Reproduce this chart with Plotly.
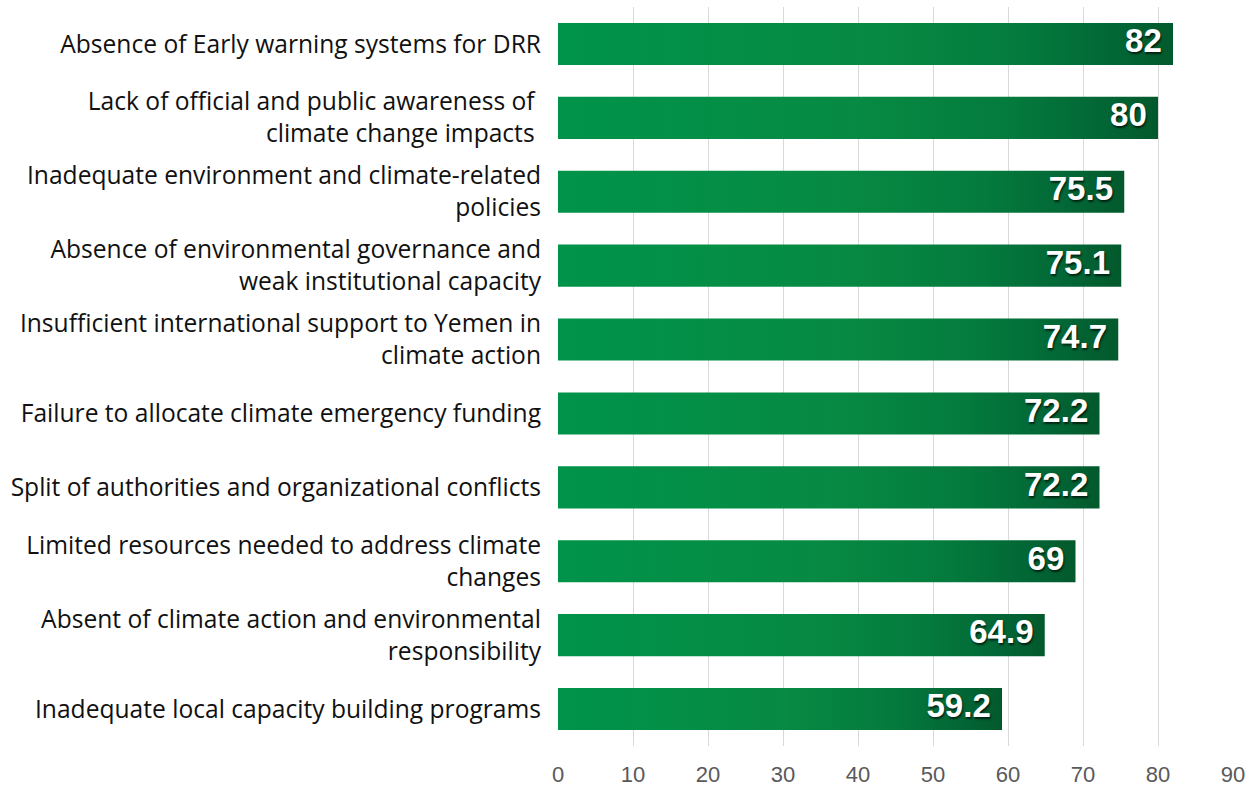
import plotly.graph_objects as go

# Barriers to climate action, ranked by score
labels = [
    "Absence of Early warning systems for DRR",
    "Lack of official and public awareness of <br>climate change impacts ",
    "Inadequate environment and climate-related<br>policies",
    "Absence of environmental governance and<br>weak institutional capacity",
    "Insufficient international support to Yemen in<br>climate action",
    "Failure to allocate climate emergency funding",
    "Split of authorities and organizational conflicts",
    "Limited resources needed to address climate<br>changes",
    "Absent of climate action and environmental<br>responsibility",
    "Inadequate local capacity building programs",
]
scores = [82, 80, 75.5, 75.1, 74.7, 72.2, 72.2, 69, 64.9, 59.2]
value_text = ["82", "80", "75.5", "75.1", "74.7", "72.2", "72.2", "69", "64.9", "59.2"]
x_ticks = [0, 10, 20, 30, 40, 50, 60, 70, 80, 90]

HALF = 0.285  # half bar thickness in category units
gradient = [[0.0, "#00934a"], [0.5, "#078a43"], [0.75, "#047b3d"],
            [0.9, "#026736"], [1.0, "#03592c"]]

fig = go.Figure()

# each bar is a filled rectangle so it can carry its own left-to-right gradient
for pos, val in enumerate(scores):
    fig.add_trace(go.Scatter(
        x=[0, val, val, 0, 0],
        y=[pos - HALF, pos - HALF, pos + HALF, pos + HALF, pos - HALF],
        mode="lines",
        line=dict(width=0),
        fill="toself",
        fillgradient=dict(type="horizontal", colorscale=gradient),
        hoverinfo="skip",
        showlegend=False,
    ))

fig.add_trace(go.Scatter(
    x=[v - 1.5 for v in scores],
    y=list(range(len(scores))),
    mode="text",
    text=value_text,
    textposition="middle left",
    textfont=dict(family="Liberation Sans", size=33, color="white",
                  weight="bold", shadow="1px 2px 2px rgba(0,0,0,0.65)"),
    hoverinfo="skip",
    showlegend=False,
))

fig.update_layout(
    width=1258,
    height=786,
    margin=dict(l=558, r=25, t=7, b=40),
    paper_bgcolor="white",
    plot_bgcolor="white",
    xaxis=dict(
        range=[0, 90],
        tickvals=x_ticks,
        showgrid=True,
        gridcolor="#d9d9d9",
        gridwidth=1,
        zeroline=False,
        showline=False,
        ticks="",
        automargin=False,
        ticklabelstandoff=13,
        tickfont=dict(family="Liberation Sans", size=22, color="#595959"),
    ),
    yaxis=dict(
        range=[len(scores) - 0.5, -0.5],
        tickvals=list(range(len(labels))),
        ticktext=labels,
        showgrid=False,
        zeroline=False,
        showline=False,
        ticks="",
        automargin=False,
        ticklabelstandoff=16,
        tickfont=dict(family="Open Sans", size=24.6, color="#111111"),
    ),
)

fig.write_html("out.html")
